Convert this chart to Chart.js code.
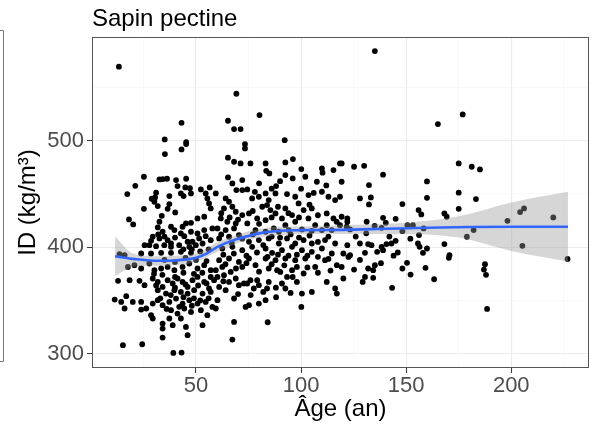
<!DOCTYPE html>
<html>
<head>
    <title>Sapin pectine</title>
    <meta charset="UTF-8">
    <script src="https://cdn.jsdelivr.net/npm/chart.js"></script>
    <style>
        html, body { margin: 0; padding: 0; background: #fff; }
    </style>
</head>
<body>
<canvas id="densiteChart" width="593" height="428"></canvas>

<script>
const pointsHaut = [
    [13.3,569.6],[43.1,516.9],[35.1,501.3],[45.3,498.8],[45.3,496.9],[69.2,544.2],[65.2,518.8],
    [80.2,524.1],[68.1,511],[71.2,511],[73.3,496.9],[92.2,500.6],[135.1,584.3],[165.1,515.7],[176.9,524.8]
];
const pointsJeunesHaut = [
    [35.2,487.5],[43.1,491.9],[25.2,466.2],[21.1,457.7],[17.3,449.9],[32.6,463.7],[34.2,464],[36.2,464.3],
    [40.5,463.1],[45.3,464.3],[41.2,457.4],[44.9,456.2],[47.1,455.5],[52.3,454.3],[56.5,456.2],[31,451.2],
    [30.5,446.8],[28.9,445.5],[37.3,448],[42.8,450.5],[44.1,448],[47.6,450.5],[54.6,450.5],[55.4,445.8],
    [56.2,441.1],[57,436.4],[30.2,442.7],[31.8,438.6],[25.2,436.1],[37.3,440.5],[36.5,436.1],[40.1,432.7],
    [33.7,429.5],[18.1,426.1],[20.1,421.4],[32.6,423.9],[31.8,418.6],[38.1,419.2],[39.7,416.1],[43.6,419.2],
    [45.2,422.3],[47.6,422.9],[50.7,427],[53.9,428.6],[34.1,414.5],[42.8,412.9],[47.6,414.5],[50.7,412.9],
    [53.9,416.1],[57.8,417.6],[29.4,409.8],[28.6,406],[32.6,408.2],[36.5,406.6],[38.1,403.5],[44.4,410.4],
    [46,405.1],[48.3,405.1],[51.5,408.2],[54.6,410.4],[57,406.6],[25.5,401.9],[27.8,401.9],[31,401],
    [34.9,401.9],[38.1,400.4],[42,401.9],[46.8,400.4],[49.9,401.9],[53.1,403.5],[13.6,393.5],[16,392.5],
    [23.9,394.1],[28.6,394.1],[33.4,394.7],[38.1,394.7],[42.8,395.7],[47.6,394.7]
];
const pointsJeunesBas = [
    [17.6,381.5],[20.7,383.1],[23.9,380],[27.8,384.7],[30.2,378.4],[33.4,380],[36.5,381.5],[39.7,378.4],
    [43.6,381.5],[46.8,384.7],[50.7,380],[53.9,383.1],[57,378.4],[12.9,368.4],[18.4,369],[23.1,368.4],
    [25.5,364.3],[29.4,370.6],[31.8,367.4],[34.1,362.7],[36.5,369],[38.9,365.9],[41.2,370.6],[43.6,367.4],
    [46,362.7],[48.3,369],[50.7,372.1],[53.9,367.4],[56.2,361.2],[58.6,369],[31.8,359.6],[35.7,356.4],
    [39.7,359.6],[42.8,358],[46,356.4],[49.1,359.6],[53.1,356.4],[57,358],[11.3,350.8],[14.4,348.6],
    [16.8,354],[19.9,348.6],[23.9,348.6],[26.3,342.4],[16,342.4],[23.9,341.4],[29.4,347],[31.8,350.2],
    [34.1,345.5],[37.3,348.6],[40.5,351.7],[43.6,347],[46.8,350.2],[50.7,347],[54.6,348.6],[57.8,343.9],
    [28.6,336.1],[29.4,333],[38.1,340.8],[41.2,337.6],[44.4,342.4],[47.6,339.2],[52.3,340.8],[55.4,336.1],
    [37.3,333],[42.8,333],[34.1,328.2],[34.1,323.5],[38.9,326.7],[45.2,325.1],[53.1,326.7],[34.1,315.1],
    [46,317.3],[15.2,307.9],[24.4,308.8],[39.2,300.7],[43.1,301]
];
const pointsMilieuHaut = [
    [73.3,492.8],[65.2,484.1],[68.1,480.3],[71.2,478.7],[75.9,478.7],[83.1,478.7],[92.5,479.7],[96.1,482.8],
    [100.1,473.4],[109.9,474],[110.2,470],[115.4,472.5],[118.5,478.7],[83.4,471.8],[84.9,469.3],[92.5,467.8],
    [96,464.6],[102,466.2],[107.5,461.5],[65.2,465.6],[67.3,459.9],[72,463.1],[69.2,453.7],[72,453.7],
    [74.4,454.3],[59.4,450.5],[64.1,445.8],[65.7,442.7],[76.7,445.8],[79.9,447.4],[83.1,450.5],[84.6,444.3],
    [88.1,457.4],[87.8,450.5],[93.3,449.9],[97.2,447.4],[98.8,441.1],[103.5,449],[109.9,452.1],[113,447.4],
    [116.2,444.3],[118.5,447.4],[63.3,436.4],[67.3,438],[68.9,433.3],[72,430.2],[75.2,431.7],[81.5,438],
    [83.8,439.6],[85.4,434.9],[87.8,431.7],[92.5,436.4],[95.7,430.2],[101.2,434.9],[105.1,436.4],[112.2,431.7],
    [115.4,427],[61.8,427],[64.9,423.9],[68.9,422.3],[74.4,422.3],[79.1,427],[83.1,425.4],[90.9,427],
    [92.5,420.7],[97.2,423.9],[103.5,427],[106.7,420.7],[112.2,420.7],[116.9,423.9],[60.2,417.6],[64.1,416.1],
    [68.1,417.6],[78.3,416.1],[83.1,414.5],[87,417.6],[89.4,414.5],[94.1,416.1],[100.4,416.7],[105.1,415.4],
    [109.9,416.1],[114.6,416.1],[61,408.2],[65.7,409.8],[70.4,411.4],[75.2,405.1],[79.9,406.7],[84.6,408.2],
    [89.4,403.5],[93.3,408.2],[97.2,403.5],[101.2,406.7],[105.1,403.5],[111.4,406.7],[116.2,403.5],[62.5,398.8],
    [67.3,400.4],[72,397.2],[76.7,400.4],[83.1,398.8],[86.2,394.7],[90.9,397.2],[95.7,400.4],[100.4,397.2],
    [105.1,395.7],[109.9,398.8],[114.6,394.1]
];
const pointsMilieuBas = [
    [61,387.8],[65.7,389.4],[70.4,386.2],[75.2,389.4],[83.1,389.4],[87.8,387.8],[92.5,389.4],[97.2,387.8],
    [102,389.4],[106.7,381.5],[111.4,387.8],[117,383.1],[59.4,378.4],[62.5,381.5],[66.5,376.8],[72,381.5],
    [78.3,383.1],[84.6,380],[88.6,378.4],[90.1,376.8],[95.7,378.4],[98,381.5],[101.2,375.3],[60.2,372.1],
    [63.3,373.7],[65.7,367.4],[68.9,370.6],[72.8,365.9],[75.9,369],[79.1,369],[84.6,367.4],[90.9,365.9],
    [93.3,372.1],[98,367.4],[112.2,367.4],[61,362.7],[64.1,359.6],[70.4,364.3],[74.4,365.9],[77.5,361.2],
    [79.9,364.3],[83.8,361.2],[92.5,361.2],[100.4,356.4],[105.1,358],[116.2,361.2],[117,356.4],[60.2,350.2],
    [68.1,351.8],[73.6,343.9],[75.2,345.5],[79.9,347],[83.1,350.2],[88.1,353],[100.1,343.9],[59.4,342.4],
    [68.1,329.8],[84.1,329.5],[67.3,313.2]
];
// points superposés des zones les plus denses (estimés)
const pointsDenses = [
    [32,412],[35,410],[40,409],[44,398],[48,398],[52,396],[56,398],[35,388],[40,386],[45,390],[50,388],
    [55,387],[30,375],[34,374],[40,372],[44,376],[49,375],[53,376],[57,372],[33,352],[38,355],[44,353],
    [49,352],[52,350],[56,352],[36,342],[42,344],[48,345],[31,364],[40,362],[45,365],[51,364],[55,366],
    [62,432],[66,428],[70,426],[77,434],[80,422],[86,428],[89,438],[94,432],[99,428],[104,440],[108,430],
    [62,412],[67,404],[72,408],[77,412],[82,402],[86,410],[90,409],[95,412],[99,409],[104,411],[108,405],
    [113,410],[63,393],[68,394],[74,392],[79,395],[84,391],[89,393],[94,392],[98,393],[103,392],[108,391],
    [113,389],[64,384],[69,380],[74,385],[80,377],[86,384],[92,383],[96,372],[103,381],[108,376],[114,378],
    [70,356],[76,355],[82,358],[88,362],[95,357],[63,368],[80,460],[86,455],[90,462],[78,452],[100,455],
    [106,451],[112,458],[126,410],[131,413],[135,420],[142,410],[146,395],[152,408],[128,388],[138,385],
    [144,392]
];
const pointsVieux = [
    [119.3,478.7],[125.2,475.6],[130,476.5],[139,468.1],[175,478.7],[119.3,461.5],[132.3,458.4],[159.9,461.8],
    [128,445.8],[133.2,446.8],[132.3,440.2],[148.2,440.5],[159.9,446.4],[175,451.2],[175,436.1],[119.3,428.6],
    [122,427],[122,423.9],[131.2,423.9],[139,427.6],[140.3,422.9],[145,426.7],[155.9,434.9],[157.2,430.8],
    [168.2,431.7],[169.3,428.6],[118.5,420.7],[121.7,419.2],[123.3,416.7],[138.3,418.2],[148.2,415.1],[150.6,420.7],
    [153.2,420.7],[156.1,411.4],[158.3,417.6],[122,401.9],[128,403.5],[131.9,402.9],[133.5,401.9],[138.3,400.4],
    [140.6,402.9],[143,403.5],[139,397.2],[136.2,395.7],[145,406],[155.6,403.5],[156.4,400.4],[159.9,398.8],
    [168.2,402.9],[158,394.7],[170.6,392.5],[130.4,394.7],[120.1,394.1],[123.3,392.5],
    [122.5,390.9],[119.3,381.5],[120.1,370.6],[125.2,379],[131.9,380],[134.3,378.4],[135.1,383.1],[130.4,372.1],
    [129.3,367.4],[134.3,371.2],[143.3,361.8],[148.2,380],[150.4,385.3],[152.1,374.3],[159.2,380.6],[163.3,369.9],
    [170.3,390],
    [181.2,475.6],[185.1,473.1],[183.2,445.2],[198.2,424.8],[204.2,433],[206.1,436.4],[220,428],[182.1,416.1],
    [178.9,409.8],[205.3,401.3],[187.5,384],[187,379],[188,374],[188.5,342],[226.8,389]
];

// courbe de lissage (loess) et son intervalle de confiance
const lissageAge = [11.5, 20, 30, 40, 45, 50, 55, 60, 65, 70, 75, 80, 85, 90, 100, 120, 140, 160, 180, 200, 227];
const lissageID  = [391.4, 389, 387.3, 387.5, 388.5, 390, 394, 400, 404.5, 408, 410.5, 413, 414.5, 415.5, 416, 416.3, 417.3, 418.3, 419, 419.2, 419.2];
const bandeAge  = [11.5, 20, 30, 40, 50, 60, 70, 80, 90, 100, 125, 150, 175, 200, 227];
const bandeHaut = [410, 394, 391.5, 392, 394, 404.5, 412, 417, 419.5, 419.5, 421, 423, 429, 442, 452];
const bandeBas  = [373, 381.5, 382.5, 383, 386, 395.5, 404, 409, 411.5, 412.5, 412.5, 412.5, 409, 396.5, 386.5];

const xTicks = [25, 50, 75, 100, 125, 150, 175, 200, 225];
const yTicks = [300, 350, 400, 450, 500, 550];

const police = "'Liberation Sans', Arial, sans-serif";

const nuage = [].concat(pointsHaut, pointsJeunesHaut, pointsJeunesBas, pointsMilieuHaut, pointsMilieuBas,
        pointsDenses, pointsVieux)
    .map(p => ({x: p[0], y: p[1]}));
const lissage = lissageAge.map((a, i) => ({x: a, y: lissageID[i]}));
const haut = bandeAge.map((a, i) => ({x: a, y: bandeHaut[i]}));
const bas = bandeAge.map((a, i) => ({x: a, y: bandeBas[i]}));

// cadre du panneau, titre et bord du panneau voisin
const cadre = {
    id: 'cadre',
    afterDraw(chart) {
        const {ctx, chartArea: a} = chart;
        ctx.save();
        ctx.strokeStyle = '#555';
        ctx.lineWidth = 1;
        ctx.strokeRect(a.left + 0.5, a.top + 0.5, a.right - a.left - 1, a.bottom - a.top - 1);
        ctx.beginPath();
        ctx.moveTo(0, 30.5); ctx.lineTo(3.5, 30.5); ctx.lineTo(3.5, 361.5); ctx.lineTo(0, 361.5);
        ctx.strokeStyle = '#777';
        ctx.stroke();
        ctx.fillStyle = '#000';
        ctx.font = '24px ' + police;
        ctx.textBaseline = 'alphabetic';
        ctx.fillText('Sapin pectine', a.left, 26);
        ctx.restore();
    }
};

const majeurX = v => v % 50 === 0;
const majeurY = v => v % 100 === 0;

new Chart(document.getElementById('densiteChart').getContext('2d'), {
    type: 'scatter',
    data: {
        datasets: [
            {
                type: 'line', data: lissage, borderColor: '#3366FF', borderWidth: 2.6,
                pointRadius: 0, cubicInterpolationMode: 'monotone', fill: false, order: 0
            },
            {
                type: 'line', data: haut, borderColor: 'rgba(0,0,0,0)', borderWidth: 0,
                pointRadius: 0, cubicInterpolationMode: 'monotone',
                fill: '+1', backgroundColor: 'rgba(153,153,153,0.4)', order: 1
            },
            {
                type: 'line', data: bas, borderColor: 'rgba(0,0,0,0)', borderWidth: 0,
                pointRadius: 0, cubicInterpolationMode: 'monotone', fill: false, order: 1
            },
            {
                data: nuage, pointRadius: 2.9, pointBackgroundColor: '#000',
                backgroundColor: '#000', borderWidth: 0, order: 2
            }
        ]
    },
    options: {
        responsive: false,
        animation: false,
        layout: { padding: { top: 37, right: 1, left: 0, bottom: 0 } },
        plugins: { legend: { display: false }, tooltip: { enabled: false } },
        scales: {
            x: {
                type: 'linear', min: 0.5, max: 237,
                afterBuildTicks: s => { s.ticks = xTicks.map(v => ({value: v})); },
                afterFit: s => { s.height = 60; },
                border: { display: false },
                grid: {
                    color: c => majeurX(c.tick.value) ? '#ebebeb' : '#f5f5f5',
                    lineWidth: c => majeurX(c.tick.value) ? 1.1 : 0.6,
                    tickColor: c => majeurX(c.tick.value) ? '#333' : 'rgba(0,0,0,0)',
                    tickWidth: 1, tickLength: 5
                },
                ticks: {
                    autoSkip: false, maxRotation: 0, padding: 0,
                    color: '#4d4d4d', font: { family: police, size: 22 },
                    callback: v => majeurX(v) ? v : ''
                },
                title: {
                    display: true, text: 'Âge (an)', color: '#000',
                    font: { family: police, size: 24 }, padding: { top: 0, bottom: 4 }
                }
            },
            y: {
                type: 'linear', min: 286.5, max: 597.5,
                afterBuildTicks: s => { s.ticks = yTicks.map(v => ({value: v})); },
                afterFit: s => { s.width = 92; },
                border: { display: false },
                grid: {
                    color: c => majeurY(c.tick.value) ? '#ebebeb' : '#f5f5f5',
                    lineWidth: c => majeurY(c.tick.value) ? 1.1 : 0.6,
                    tickColor: c => majeurY(c.tick.value) ? '#333' : 'rgba(0,0,0,0)',
                    tickWidth: 1, tickLength: 5
                },
                ticks: {
                    autoSkip: false, padding: 3,
                    color: '#4d4d4d', font: { family: police, size: 22 },
                    callback: v => majeurY(v) ? v : ''
                },
                title: {
                    display: true, text: 'ID (kg/m³)', color: '#000',
                    font: { family: police, size: 24 }, padding: { top: 14, bottom: 0 }
                }
            }
        }
    },
    plugins: [cadre]
});
</script>
</body>
</html>
